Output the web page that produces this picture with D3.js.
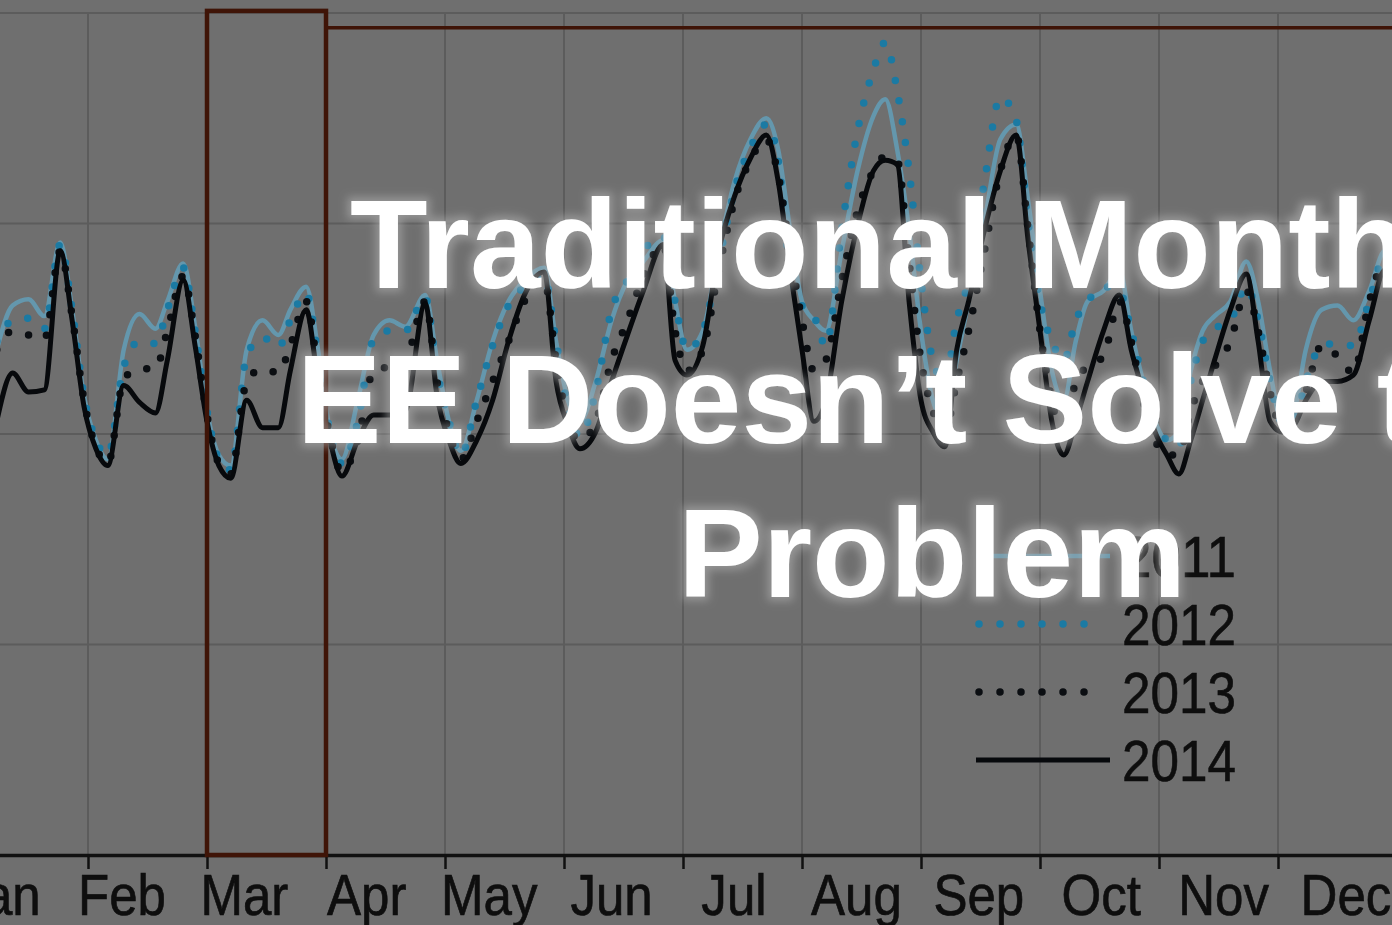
<!DOCTYPE html>
<html>
<head>
<meta charset="utf-8">
<script src="https://cdn.jsdelivr.net/npm/d3@7"></script>
<style>
  html, body { margin: 0; padding: 0; background: #6f6f6f; overflow: hidden; }
  svg { display: block; }
</style>
</head>
<body>
<svg id="chart" width="1392" height="925"></svg>
<script>
// day index on an even 30-day-per-month axis (Jan 1 = 0)
var days = [7,11,15,19,23,26,29,32,35,39,43,47,50,54,57,60,63,66,70,74,78,81,85,88,91,
  94,98,102,106,110,115,118,121,124,128,132,136,140,145,148,151,154,158,162,166,170,175,178,
  181,185,189,193,197,201,204,207,210,213,216,220,224,228,231,234,237,240,243,246,249,252,
  256,260,264,267,270,273,276,279,282,286,290,293,296,299,302,305,308,311,314,318,322,325,
  328,331,334,337,341,345,349,353,357,360];

var load2011 = [240,261,264,256,291, 259,218,197,188,240, 257,250,263,281,251,
  211,190,185,240,254, 247,259,270,240,201, 188,216,247,254,251, 266,235,206,192,216,
  244,263,273,279,244, 216,206,225,254,273, 282,292,263,240,249, 287,320,340,350,335,
  297,263,254,249,287, 325,351,359,335,297, 249,216,206,235,263, 301,340,347,311,268,
  230,216,244,263,268, 278,249,225,206,197, 201,230,249,256,263, 282,263,230,206,211,
  240,259,261,254,268, 287,278];

var load2012 = [244,254,255,250,290, 259,218,197,190,232, 244,243,259,279,249,
  211,188,183,237,246, 241,254,267,237,201, 186,206,245,249,249, 265,230,206,190,216,
  242,261,270,275,244, 213,199,220,259,273, 287,294,263,240,249, 282,316,336,347,330,
  278,261,256,242,297, 344,373,386,363,325, 273,235,225,254,273, 320,360,349,301,263,
  244,235,254,263,270, 268,249,225,206,197, 194,225,244,250,254, 270,254,225,206,206,
  225,242,243,242,263, 285,278];

var load2013 = [240,249,247,245,287, 256,216,194,186,226, 231,231,249,275,247,
  209,186,181,225,231, 229,242,263,230,199, 182,197,230,232,235, 263,225,201,188,206,
  225,244,263,273,235, 206,197,206,235,254, 275,290,249,230,240, 278,311,330,340,323,
  287,254,230,235,273, 306,325,332,330,282, 235,211,201,225,249, 287,325,342,297,249,
  216,197,225,232,237, 263,244,216,197,190, 190,211,225,232,244, 268,249,220,203,206,
  220,242,237,229,263, 282,273];

var load2014 = [206,229,220,221,287, 254,213,193,185,223, 215,210,235,273,242,
  206,185,179,216,203, 203,230,259,225,197, 180,197,209,209,211, 262,218,197,186,197,
  216,244,266,277,225, 204,193,201,225,247, 268,290,235,228,242, 287,313,331,342,320,
  278,240,206,216,263, 299,325,330,328,263, 216,201,194,240,263, 297,325,342,292,249,
  206,190,206,225,249, 266,240,220,201,190, 181,197,216,235,259, 276,244,206,201,204,
  216,225,225,228,254, 278,268];

var monthLabels = ['Jan','Feb','Mar','Apr','May','Jun','Jul','Aug','Sep','Oct','Nov','Dec'];
var years = ['2011','2012','2013','2014'];
var yGrid = [100, 200, 300, 400];
var highlightMonth = 2; // Mar
var titleLines = ['Traditional Monthly', 'EE Doesn\u2019t Solve the', 'Problem'];

(function () {
  'use strict';

  var W = 1392, H = 925;
  var svg = d3.select('#chart');

  var x = d3.scaleLinear().domain([0, 360]).range([-31, 1397]);
  var y = d3.scaleLinear().domain([0, 400]).range([855, 13]);
  // month names sit a little off the tick grid in the source picture
  var labelX = d3.scaleLinear().domain([1, 11]).range([122, 1346]);

  var styles = {
    '2011': { color: '#6497ad', width: 4.5, dash: null },
    '2012': { color: '#1b7aa3', width: 7.5, dash: '0,21' },
    '2013': { color: '#0b0e12', width: 7.5, dash: '0,21' },
    '2014': { color: '#07090c', width: 5, dash: null }
  };
  var seriesValues = { '2011': load2011, '2012': load2012, '2013': load2013, '2014': load2014 };
  var font = '"Liberation Sans", Arial, sans-serif';

  svg.append('rect').attr('width', W).attr('height', H).attr('fill', '#6f6f6f');

  var defs = svg.append('defs');
  var f = defs.append('filter').attr('id', 'glow')
    .attr('x', '-10%').attr('y', '-30%').attr('width', '120%').attr('height', '160%');
  f.append('feMorphology').attr('in', 'SourceAlpha').attr('operator', 'dilate').attr('radius', 4).attr('result', 'd');
  f.append('feGaussianBlur').attr('in', 'd').attr('stdDeviation', 4.5).attr('result', 'b');
  f.append('feFlood').attr('flood-color', '#b4b4b4').attr('flood-opacity', 0.55);
  f.append('feComposite').attr('in2', 'b').attr('operator', 'in').attr('result', 'g');
  var fm = f.append('feMerge');
  fm.append('feMergeNode').attr('in', 'g');
  fm.append('feMergeNode').attr('in', 'SourceGraphic');

  // gridlines
  var grid = svg.append('g');
  grid.selectAll('line.v').data(d3.range(0, 361, 30)).enter().append('line')
    .attr('x1', function (d) { return x(d); }).attr('x2', function (d) { return x(d); })
    .attr('y1', y(400)).attr('y2', y(0))
    .attr('stroke', '#5c5c5c').attr('stroke-width', 2);
  grid.selectAll('line.h').data(yGrid).enter().append('line')
    .attr('x1', 0).attr('x2', W)
    .attr('y1', function (d) { return y(d); }).attr('y2', function (d) { return y(d); })
    .attr('stroke', '#5c5c5c').attr('stroke-width', 2);

  // series
  var line = d3.line()
    .x(function (d) { return x(d.day); })
    .y(function (d) { return y(d.v); })
    .curve(d3.curveMonotoneX);

  years.forEach(function (yr) {
    var st = styles[yr];
    var pts = days.map(function (d, i) { return { day: d, v: seriesValues[yr][i] }; });
    svg.append('path').datum(pts)
      .attr('d', line)
      .attr('fill', 'none')
      .attr('stroke', st.color)
      .attr('stroke-width', st.width)
      .attr('stroke-linecap', 'round')
      .attr('stroke-linejoin', 'round')
      .attr('stroke-dasharray', st.dash);
  });

  // x axis
  var axis = d3.axisBottom(x).tickValues(d3.range(0, 361, 30))
    .tickSize(14).tickSizeOuter(0).tickFormat('');
  var ax = svg.append('g').attr('transform', 'translate(0,' + y(0) + ')').call(axis);
  ax.select('.domain').attr('stroke', '#111').attr('stroke-width', 3.5);
  ax.selectAll('.tick line').attr('stroke', '#111').attr('stroke-width', 2.5);

  monthLabels.forEach(function (m, i) {
    var t = svg.append('text')
      .attr('x', labelX(i)).attr('y', 915)
      .attr('text-anchor', 'middle')
      .attr('font-family', font)
      .attr('font-size', 58).attr('fill', '#0e0e0e')
      .attr('stroke', '#0e0e0e').attr('stroke-width', 0.7)
      .text(m);
    var len = t.node().getComputedTextLength();
    t.attr('textLength', len * 0.88).attr('lengthAdjust', 'spacingAndGlyphs');
  });

  // highlighted month box and its leader line
  var boxCol = '#3f1407';
  svg.append('rect')
    .attr('x', x(highlightMonth * 30)).attr('y', y(401))
    .attr('width', x((highlightMonth + 1) * 30) - x(highlightMonth * 30))
    .attr('height', y(0) - y(401))
    .attr('fill', 'none').attr('stroke', boxCol).attr('stroke-width', 4.5);
  svg.append('line')
    .attr('x1', x((highlightMonth + 1) * 30)).attr('x2', W)
    .attr('y1', y(393)).attr('y2', y(393))
    .attr('stroke', boxCol).attr('stroke-width', 3.5);

  // legend
  var lg = svg.append('g');
  years.forEach(function (yr, i) {
    var st = styles[yr];
    var cy = 556 + i * 68;
    lg.append('line')
      .attr('x1', st.dash ? 979 : 976).attr('x2', st.dash ? 1091 : 1110)
      .attr('y1', cy).attr('y2', cy)
      .attr('stroke', st.color).attr('stroke-width', st.width)
      .attr('stroke-linecap', st.dash ? 'round' : 'butt').attr('stroke-dasharray', st.dash);
    lg.append('text')
      .attr('x', 1122).attr('y', cy + 21)
      .attr('font-family', font)
      .attr('font-size', 58).attr('fill', '#0e0e0e')
      .attr('stroke', '#0e0e0e').attr('stroke-width', 0.6)
      .attr('textLength', 114).attr('lengthAdjust', 'spacingAndGlyphs')
      .text(yr);
  });

  // slide title over the chart
  var tg = svg.append('g').attr('filter', 'url(#glow)');
  titleLines.forEach(function (s, i) {
    tg.append('text')
      .attr('x', 932).attr('y', 288 + i * 154.5)
      .attr('text-anchor', 'middle')
      .attr('font-family', font)
      .attr('font-weight', 'bold').attr('font-size', 127)
      .attr('fill', '#ffffff')
      .text(s);
  });
})();
</script>
</body>
</html>
